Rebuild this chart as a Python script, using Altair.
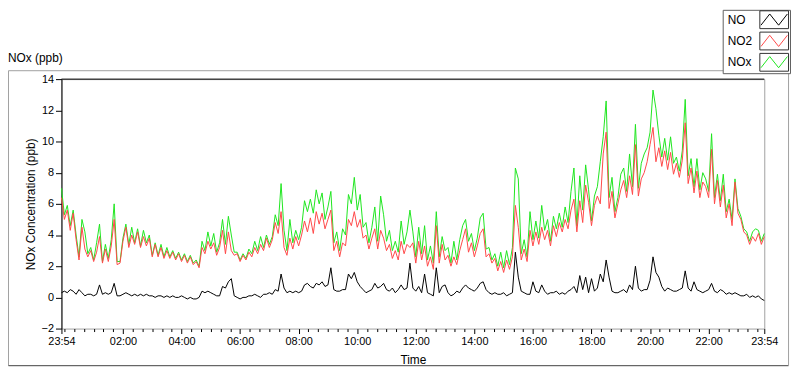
import altair as alt
import pandas as pd

# ---- data: 6-minute readings starting at 23:54 (241 points) ----
NO2 = [
    6.4, 5.0, 5.6, 4.3, 5.4, 3.7, 2.4, 4.5, 3.1, 2.6,
    3.0, 2.3, 2.9, 3.9, 2.2, 3.1, 2.3, 3.3, 5.0, 2.1,
    2.2, 3.6, 4.5, 3.2, 4.0, 3.4, 4.2, 3.2, 3.9, 3.3,
    3.8, 2.6, 3.4, 2.6, 3.2, 2.5, 3.0, 2.5, 2.9, 2.4,
    2.8, 2.3, 2.7, 2.2, 2.6, 2.1, 2.3, 1.9, 3.2, 2.8,
    3.6, 3.1, 3.5, 2.7, 3.2, 4.3, 2.8, 4.2, 3.0, 2.7,
    2.8, 2.3, 2.7, 2.4, 2.9, 2.6, 3.2, 2.8, 3.4, 3.0,
    3.8, 3.2, 3.7, 4.8, 4.1, 5.5, 3.2, 2.7, 3.8, 3.1,
    3.9, 3.3, 4.0, 4.9, 4.2, 5.1, 4.1, 5.5, 4.7, 5.4,
    4.4, 5.0, 5.6, 3.0, 3.6, 2.6, 3.5, 3.3, 5.0, 4.6,
    5.5, 4.5, 5.0, 3.8, 4.0, 3.1, 3.8, 4.4, 3.1, 4.3,
    3.8, 3.0, 3.4, 2.5, 3.0, 2.4, 3.6, 2.8, 3.4, 3.2,
    3.5, 2.2, 3.6, 2.4, 3.3, 2.0, 2.6, 1.8, 4.6, 2.2,
    3.4, 2.4, 2.7, 2.0, 2.6, 2.1, 3.0, 3.7, 4.4, 2.9,
    3.5, 2.6, 3.3, 4.1, 4.4, 2.6, 2.8, 2.2, 2.5, 1.7,
    2.3, 1.6, 2.4, 1.8, 2.6, 5.9, 4.5, 2.4, 3.1, 2.3,
    4.3, 3.3, 4.2, 3.4, 4.5, 3.7, 4.3, 3.3, 4.6, 3.9,
    4.8, 4.2, 5.0, 4.4, 5.6, 6.3, 4.2, 6.2, 4.8, 7.2,
    6.1, 4.6, 5.9, 6.5, 6.0, 9.2, 10.6, 5.7, 6.8, 5.1,
    6.0, 6.9, 7.5, 6.4, 7.8, 6.6, 9.8, 6.5, 7.6, 8.0,
    8.7, 9.8, 10.9, 8.7, 9.6, 8.4, 9.4, 8.2, 9.3, 7.9,
    8.6, 7.7, 8.8, 11.2, 7.3, 8.3, 6.7, 8.1, 6.4, 7.4,
    7.1, 6.4, 9.5, 6.0, 7.5, 5.8, 7.2, 5.1, 6.0, 4.6,
    7.4, 5.4, 5.0, 4.2, 4.0, 3.4, 3.9, 3.6, 4.1, 3.4, 3.9,
]
NOX = [
    7.0, 5.3, 5.9, 4.6, 5.6, 4.0, 2.6, 5.0, 4.2, 2.8,
    3.2, 2.4, 3.5, 4.7, 2.3, 3.4, 2.5, 3.7, 6.0, 2.3,
    2.3, 3.8, 4.7, 3.4, 4.5, 3.5, 4.4, 3.3, 4.3, 3.5,
    4.0, 2.7, 3.5, 2.7, 3.4, 2.6, 3.2, 2.6, 3.0, 2.5,
    2.9, 2.4, 2.8, 2.3, 2.7, 2.2, 2.4, 2.0, 3.6, 3.0,
    4.2, 3.3, 4.1, 2.9, 3.5, 5.0, 3.4, 5.2, 4.0, 2.9,
    2.9, 2.4, 2.8, 2.5, 3.1, 2.8, 3.6, 3.0, 3.9, 3.2,
    4.0, 3.4, 3.9, 5.3, 4.6, 7.3, 4.3, 3.0, 5.0, 3.5,
    4.3, 3.7, 4.5, 6.2, 5.5, 6.3, 5.4, 6.9, 6.0, 6.7,
    5.0, 5.8, 6.8, 3.5, 4.2, 3.0, 4.4, 4.0, 6.6, 6.0,
    7.7, 5.6, 6.6, 4.5, 4.8, 3.5, 4.5, 5.8, 3.6, 6.5,
    5.3, 3.6, 4.3, 3.0, 3.6, 2.9, 4.9, 3.4, 4.2, 5.6,
    4.2, 2.6, 4.5, 2.8, 4.6, 2.4, 3.3, 2.2, 5.5, 2.6,
    3.9, 3.0, 3.2, 2.2, 3.6, 2.4, 3.7, 4.6, 5.0, 3.6,
    4.1, 3.0, 3.8, 5.1, 5.4, 3.1, 3.2, 2.4, 2.8, 2.0,
    2.9, 1.9, 3.0, 2.1, 3.2, 8.3, 7.6, 2.8, 3.7, 2.6,
    5.5, 3.7, 4.9, 3.8, 5.9, 4.3, 5.0, 3.6, 5.2, 4.4,
    5.4, 4.5, 5.8, 4.8, 6.8, 8.3, 4.6, 7.8, 5.6, 8.5,
    6.9, 4.9, 6.5, 7.1, 8.7, 10.3, 12.6, 6.4, 7.7, 5.5,
    6.4, 7.9, 8.3, 6.8, 9.2, 7.1, 11.1, 7.0, 8.6, 9.2,
    9.6, 10.6, 13.3, 12.1, 10.4, 9.0, 10.2, 8.8, 10.3, 8.6,
    9.0, 8.1, 9.4, 12.7, 7.8, 8.9, 7.1, 8.9, 6.9, 8.0,
    7.6, 6.8, 10.5, 6.4, 7.9, 6.2, 7.9, 5.5, 6.3, 5.0,
    7.6, 5.7, 5.2, 4.4, 4.2, 3.6, 4.2, 4.4, 4.3, 3.6, 4.1,
]
NO = [
    0.3, 0.4, 0.3, 0.5, 0.4, 0.2, 0.5, 0.3, 0.1, 0.2,
    0.2, 0.1, 0.2, 0.8, 0.2, 0.3, 0.2, 0.3, 0.9, 0.1,
    0.1, 0.2, 0.3, 0.2, 0.1, 0.2, 0.1, 0.2, 0.1, 0.2,
    0.1, 0.1, 0.0, 0.1, 0.1, 0.0, 0.1, 0.0, 0.1, 0.0,
    0.0, 0.1, 0.0, -0.1, 0.0, -0.1, -0.1, 0.0, 0.4, 0.3,
    0.4, 0.3, 0.2, 0.1, 0.1, 0.7, 0.6, 1.0, 1.2, 0.1,
    0.0, -0.1, 0.0, 0.0, 0.1, 0.1, 0.2, 0.1, 0.0, 0.2,
    0.2, 0.3, 0.2, 0.5, 0.4, 1.5, 0.6, 0.3, 0.4, 0.3,
    0.4, 0.3, 0.4, 0.8, 0.9, 0.7, 0.6, 0.9, 0.8, 1.0,
    0.7, 0.8, 1.9, 0.5, 0.4, 0.4, 0.5, 0.5, 1.5, 1.2,
    1.6, 1.0, 0.7, 0.5, 0.3, 0.4, 0.5, 0.9, 0.6, 0.7,
    0.9, 0.5, 0.4, 0.6, 0.3, 0.5, 0.8, 0.5, 0.6, 2.2,
    0.6, 0.4, 0.7, 0.3, 1.5, 0.3, 0.2, 0.1, 1.9, 0.3,
    0.7, 0.8, 0.3, 0.1, 0.2, 0.4, 0.3, 0.6, 0.8, 0.6,
    0.5, 0.4, 0.6, 0.9, 1.0, 0.5, 0.3, 0.2, 0.3, 0.2,
    0.2, 0.3, 0.1, 0.2, 0.3, 2.9, 1.3, 0.4, 0.3, 0.2,
    0.2, 1.0, 0.4, 0.3, 0.8, 0.4, 0.2, 0.3, 0.3, 0.4,
    0.2, 0.3, 0.2, 0.4, 0.5, 0.7, 0.3, 1.4, 0.5, 1.3,
    0.3, 1.2, 0.4, 0.6, 1.5, 1.0, 2.4, 1.3, 0.4, 0.3,
    0.3, 0.4, 0.5, 0.3, 0.8, 0.5, 2.0, 0.6, 0.4, 0.5,
    0.5, 1.1, 2.6, 1.6, 1.3, 0.7, 0.4, 0.6, 0.5, 0.4,
    0.4, 0.5, 0.6, 1.7, 0.6, 0.4, 1.0, 0.5, 0.4, 0.3,
    0.4, 0.5, 0.9, 0.4, 0.3, 0.5, 0.4, 0.2, 0.3, 0.2,
    0.3, 0.2, 0.1, 0.1, 0.2, 0.0, 0.1, 0.0, 0.1, -0.1, -0.2,
]
STEP_MIN = 6                       # minutes between readings
START_H, START_M = 23, 54          # first reading at 23:54
Y_TICKS = [-2, 0, 2, 4, 6, 8, 10, 12, 14]
MAJOR_TICKS = [0] + list(range(126, 1440, 120)) + [1440]   # 23:54, 02:00 ... 22:00, 23:54
MINOR_TICKS = list(range(6, 1440, 20))                     # every 20 minutes
SERIES = ["NO", "NO2", "NOx"]
COLORS = {"NO": "#000000", "NO2": "#ff4848", "NOx": "#1ee61e"}

FONT = "Liberation Sans"
W, H = 710, 252

df = pd.DataFrame({
    "t": [i * STEP_MIN for i in range(len(NO2))],
    "NO": NO, "NO2": NO2, "NOx": NOX,
})

x_ticks = sorted(set(MAJOR_TICKS + MINOR_TICKS))
major_js = "[" + ",".join(str(v) for v in MAJOR_TICKS) + "]"
is_major = f"indexof({major_js}, datum.value) >= 0"

xscale = alt.Scale(domain=[0, 1440], nice=False, zero=False)
yscale = alt.Scale(domain=[-2, 14], nice=False, zero=False)

x_axis = alt.Axis(
    values=x_ticks,
    labelExpr=f"{is_major} ? timeFormat(datetime(2000, 0, 1, {START_H}, {START_M} + datum.value), '%H:%M') : ''",
    tickSize={"condition": {"test": is_major, "value": 5}, "value": 3},
    tickColor="black", labelColor="black", labelFontSize=11, labelPadding=2,
    labelFlush=False, labelOverlap=False, grid=False, domain=False,
    title="Time", titleFontSize=12, titleFontWeight="normal", titleColor="black",
    titleX=W / 2, titleY=31, titleBaseline="middle", titleAlign="center",
)
y_axis = alt.Axis(
    values=Y_TICKS, tickSize=6, tickColor="black", labelColor="black",
    labelFontSize=11, labelPadding=2, grid=False,
    domain=True, domainColor="black",
    title="NOx Concentration (ppb)", titleFontSize=12, titleFontWeight="normal",
    titleColor="black", titleX=-31, titleY=H / 2, titleAngle=270,
    titleBaseline="middle", titleAlign="center",
)

X = alt.X("t:Q", scale=xscale, axis=x_axis)

base = alt.Chart(df)
nox = base.mark_line(color=COLORS["NOx"], strokeWidth=1).encode(
    x=X, y=alt.Y("NOx:Q", scale=yscale, axis=y_axis))
no2 = base.mark_line(color=COLORS["NO2"], strokeWidth=1).encode(
    x=X, y=alt.Y("NO2:Q", scale=yscale, axis=y_axis))
no = base.mark_line(color=COLORS["NO"], strokeWidth=1).encode(
    x=X, y=alt.Y("NO:Q", scale=yscale, axis=y_axis))

# black top edge of the plot frame (at the top of the y domain)
top_edge = alt.Chart(pd.DataFrame({"v": [Y_TICKS[-1]]})).mark_rule(
    color="black", strokeWidth=1
).encode(y=alt.Y("v:Q", scale=yscale, axis=y_axis))

one = pd.DataFrame({"k": [0]})

def hrule(x1, x2, y, color):
    return alt.Chart(one).mark_rule(color=color, strokeWidth=1).encode(
        x=alt.value(x1), x2=alt.value(x2), y=alt.value(y))

def vrule(x, y1, y2, color):
    return alt.Chart(one).mark_rule(color=color, strokeWidth=1).encode(
        x=alt.value(x), y=alt.value(y1), y2=alt.value(y2))

# outer panel frame
frame = [
    hrule(-53.5, 734.5, -8.5, "#a0a0a0"),
    vrule(-53.5, -8.5, 289.5, "#a0a0a0"),
    hrule(-53.5, 734.5, 289.5, "#404040"),
    vrule(734.5, -8.5, 289.5, "#a0a0a0"),
]

# top-left caption
caption = alt.Chart(one).mark_text(
    align="left", baseline="middle", fontSize=12, font=FONT, color="black"
).encode(x=alt.value(-54), y=alt.value(-21), text=alt.value("NOx (ppb)"))

# legend box
legend_box = alt.Chart(one).mark_rect(
    fill="white", stroke="#606060", strokeWidth=1
).encode(x=alt.value(668.5), x2=alt.value(736.5), y=alt.value(-69.5), y2=alt.value(-5.5))

ZIGZAG = "M-0.92,0.38L-0.31,-0.4L0.31,0.38L0.92,-0.4"
BOX = "M-1,-0.62L1,-0.62L1,0.62L-1,0.62Z"
ROW_Y = [-60, -38.5, -17]
legend_layers = []
for name, ry in zip(SERIES, ROW_Y):
    legend_layers.append(alt.Chart(one).mark_text(
        align="left", baseline="middle", fontSize=12, font=FONT, color="black"
    ).encode(x=alt.value(673), y=alt.value(ry), text=alt.value(name)))
    legend_layers.append(alt.Chart(one).mark_point(
        shape=BOX, filled=False, size=841, stroke="#303030", strokeWidth=1, opacity=1
    ).encode(x=alt.value(720), y=alt.value(ry)))
    legend_layers.append(alt.Chart(one).mark_point(
        shape=ZIGZAG, filled=False, size=841, stroke=COLORS[name], strokeWidth=1, opacity=1
    ).encode(x=alt.value(720), y=alt.value(ry)))

chart = alt.layer(
    nox, no2, no, top_edge, *frame, caption, legend_box, *legend_layers
).properties(
    width=W, height=H,
    padding={"left": 54, "top": 70, "right": 28, "bottom": 40},
    autosize=alt.AutoSizeParams(type="none"),
    background="white",
).configure_view(
    stroke="#a0a0a0", strokeWidth=1
).configure_axis(
    labelFont=FONT, titleFont=FONT
)

chart.save("out.html", embed_options={"renderer": "svg", "actions": False})
